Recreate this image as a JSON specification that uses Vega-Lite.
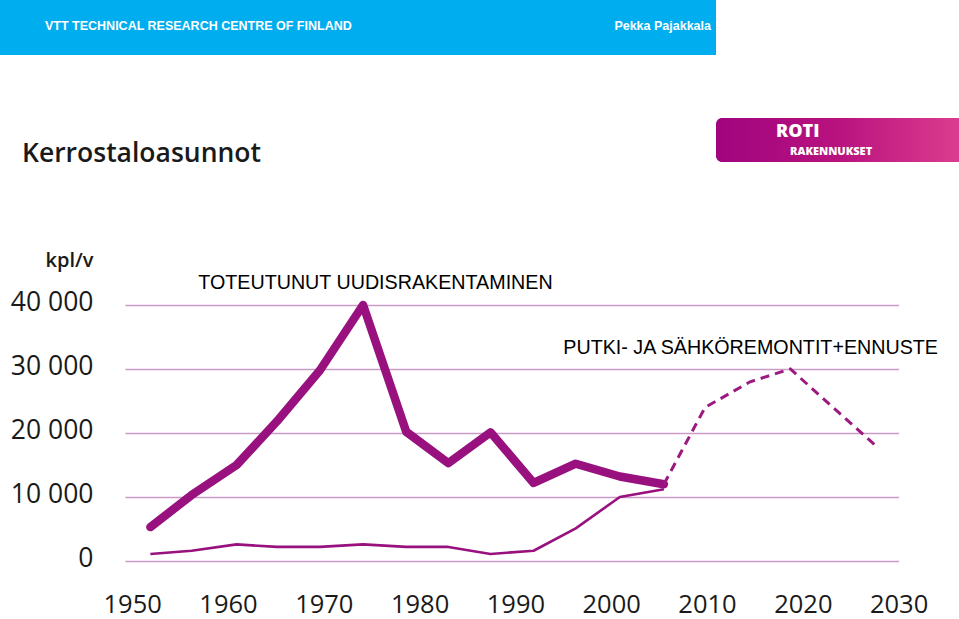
{
  "$schema": "https://vega.github.io/schema/vega-lite/v6.json",
  "width": 959,
  "height": 619,
  "padding": 0,
  "autosize": {"type": "none"},
  "background": "#FFFFFF",
  "config": {"view": {"stroke": null}},
  "datasets": {
    "housing": [
      {"series": "Toteutunut uudisrakentaminen", "year": 1951.9, "value": 5300},
      {"series": "Toteutunut uudisrakentaminen", "year": 1956.2, "value": 10300},
      {"series": "Toteutunut uudisrakentaminen", "year": 1960.9, "value": 15000},
      {"series": "Toteutunut uudisrakentaminen", "year": 1965.1, "value": 21800},
      {"series": "Toteutunut uudisrakentaminen", "year": 1969.6, "value": 29800},
      {"series": "Toteutunut uudisrakentaminen", "year": 1974.1, "value": 40000},
      {"series": "Toteutunut uudisrakentaminen", "year": 1978.6, "value": 20200},
      {"series": "Toteutunut uudisrakentaminen", "year": 1983.0, "value": 15300},
      {"series": "Toteutunut uudisrakentaminen", "year": 1987.4, "value": 20100},
      {"series": "Toteutunut uudisrakentaminen", "year": 1991.9, "value": 12200},
      {"series": "Toteutunut uudisrakentaminen", "year": 1996.3, "value": 15200},
      {"series": "Toteutunut uudisrakentaminen", "year": 2000.9, "value": 13200},
      {"series": "Toteutunut uudisrakentaminen", "year": 2005.5, "value": 12000},
      {"series": "Putki- ja sähköremontit", "year": 1951.9, "value": 1100},
      {"series": "Putki- ja sähköremontit", "year": 1956.2, "value": 1600},
      {"series": "Putki- ja sähköremontit", "year": 1960.9, "value": 2600},
      {"series": "Putki- ja sähköremontit", "year": 1965.1, "value": 2200},
      {"series": "Putki- ja sähköremontit", "year": 1969.6, "value": 2200},
      {"series": "Putki- ja sähköremontit", "year": 1974.1, "value": 2600},
      {"series": "Putki- ja sähköremontit", "year": 1978.6, "value": 2200},
      {"series": "Putki- ja sähköremontit", "year": 1983.0, "value": 2200},
      {"series": "Putki- ja sähköremontit", "year": 1987.4, "value": 1100},
      {"series": "Putki- ja sähköremontit", "year": 1991.9, "value": 1600},
      {"series": "Putki- ja sähköremontit", "year": 1996.3, "value": 5100},
      {"series": "Putki- ja sähköremontit", "year": 2000.9, "value": 10000},
      {"series": "Putki- ja sähköremontit", "year": 2005.5, "value": 11200},
      {"series": "Ennuste", "year": 2005.5, "value": 12000},
      {"series": "Ennuste", "year": 2009.8, "value": 24000},
      {"series": "Ennuste", "year": 2014.5, "value": 28000},
      {"series": "Ennuste", "year": 2018.7, "value": 30000},
      {"series": "Ennuste", "year": 2027.7, "value": 17900}
    ],
    "notes": [
      {"label": "TOTEUTUNUT UUDISRAKENTAMINEN", "year": 1956.9, "value": 43440},
      {"label": "PUTKI- JA SÄHKÖREMONTIT+ENNUSTE", "year": 1995.0, "value": 33280}
    ]
  },
  "layer": [
    {
      "data": {"values": [{"section": "header"}]},
      "mark": {"type": "rect", "fill": "#00AEEF", "stroke": null},
      "encoding": {
        "x": {"field": "section", "type": "nominal", "axis": null, "scale": {"type": "band", "range": [0, 716], "paddingInner": 0, "paddingOuter": 0}},
        "y": {"field": "section", "type": "nominal", "axis": null, "scale": {"type": "band", "range": [0, 55], "paddingInner": 0, "paddingOuter": 0}}
      }
    },
    {
      "data": {"values": [
        {"section": "header", "role": "organisation", "label": "VTT TECHNICAL RESEARCH CENTRE OF FINLAND"},
        {"section": "header", "role": "author", "label": "Pekka Pajakkala"}
      ]},
      "encoding": {
        "x": {"field": "role", "type": "nominal", "axis": null, "scale": {"type": "point", "domain": ["organisation", "author"], "range": [45, 711], "padding": 0}},
        "y": {"field": "section", "type": "nominal", "axis": null, "scale": {"type": "point", "range": [25.5, 25.5], "padding": 0}},
        "text": {"field": "label"}
      },
      "layer": [
        {
          "transform": [{"filter": "datum.role === 'organisation'"}],
          "mark": {"type": "text", "align": "left", "baseline": "middle", "color": "#FFFFFF", "font": "Liberation Sans", "fontWeight": "bold", "fontSize": 12.5}
        },
        {
          "transform": [{"filter": "datum.role === 'author'"}],
          "mark": {"type": "text", "align": "right", "baseline": "middle", "color": "#FFFFFF", "font": "Liberation Sans", "fontWeight": "bold", "fontSize": 12.5}
        }
      ]
    },
    {
      "data": {"values": [{"section": "logo"}]},
      "mark": {
        "type": "rect",
        "stroke": null,
        "cornerRadiusTopLeft": 6,
        "cornerRadiusBottomLeft": 6,
        "fill": {"gradient": "linear", "x1": 0, "x2": 1, "y1": 0, "y2": 0, "stops": [{"offset": 0, "color": "#A0047E"}, {"offset": 0.5, "color": "#B8127F"}, {"offset": 1, "color": "#DC3C8E"}]}
      },
      "encoding": {
        "x": {"field": "section", "type": "nominal", "axis": null, "scale": {"type": "band", "range": [716, 959], "paddingInner": 0, "paddingOuter": 0}},
        "y": {"field": "section", "type": "nominal", "axis": null, "scale": {"type": "band", "range": [118, 162], "paddingInner": 0, "paddingOuter": 0}}
      }
    },
    {
      "data": {"values": [
        {"role": "brand", "label": "ROTI"},
        {"role": "division", "label": "RAKENNUKSET"}
      ]},
      "encoding": {
        "x": {"field": "role", "type": "nominal", "axis": null, "scale": {"type": "point", "domain": ["brand", "division"], "range": [776, 790], "padding": 0}},
        "y": {"field": "role", "type": "nominal", "axis": null, "scale": {"type": "point", "domain": ["brand", "division"], "range": [132, 151.5], "padding": 0}},
        "text": {"field": "label"}
      },
      "layer": [
        {
          "transform": [{"filter": "datum.role === 'brand'"}],
          "mark": {"type": "text", "align": "left", "baseline": "middle", "color": "#FFFFFF", "font": "Open Sans", "fontWeight": 800, "fontSize": 18}
        },
        {
          "transform": [{"filter": "datum.role === 'division'"}],
          "mark": {"type": "text", "align": "left", "baseline": "middle", "color": "#FFFFFF", "font": "Open Sans", "fontWeight": 800, "fontSize": 11}
        }
      ]
    },
    {
      "data": {"values": [{"section": "title", "label": "Kerrostaloasunnot"}]},
      "mark": {"type": "text", "align": "left", "baseline": "alphabetic", "color": "#1A1A1A", "font": "Open Sans", "fontWeight": 600, "fontSize": 26.5},
      "encoding": {
        "x": {"field": "section", "type": "nominal", "axis": null, "scale": {"type": "point", "range": [22, 22], "padding": 0}},
        "y": {"field": "section", "type": "nominal", "axis": null, "scale": {"type": "point", "range": [162, 162], "padding": 0}},
        "text": {"field": "label"}
      }
    },
    {
      "data": {"name": "housing"},
      "encoding": {
        "x": {
          "field": "year",
          "type": "quantitative",
          "scale": {"domain": [1949.25, 2030], "range": [125, 898.6], "nice": false, "zero": false},
          "axis": {
            "orient": "bottom",
            "values": [1950, 1960, 1970, 1980, 1990, 2000, 2010, 2020, 2030],
            "format": "d",
            "offset": -27,
            "domain": false,
            "ticks": false,
            "grid": false,
            "labelPadding": 0,
            "labelFlush": false,
            "labelOverlap": false,
            "labelBaseline": "top",
            "labelFont": "Open Sans",
            "labelFontSize": 25.5,
            "labelColor": "#1A1A1A",
            "title": null
          }
        },
        "y": {
          "field": "value",
          "type": "quantitative",
          "scale": {"domain": [0, 40000], "range": [561, 305], "nice": false},
          "axis": {
            "orient": "left",
            "values": [0, 10000, 20000, 30000, 40000],
            "offset": -93,
            "domain": false,
            "ticks": false,
            "labelPadding": 0,
            "labelExpr": "replace(format(datum.value, ','), ',', ' ')",
            "labelFont": "Open Sans",
            "labelFontSize": 26.5,
            "labelColor": "#1A1A1A",
            "labelOffset": -3,
            "labelBaseline": "middle",
            "grid": true,
            "gridColor": "#C99BC6",
            "gridWidth": 1.6,
            "title": "kpl/v",
            "titleAngle": 0,
            "titleAlign": "right",
            "titleBaseline": "middle",
            "titleX": 0,
            "titleY": 260,
            "titleFont": "Open Sans",
            "titleFontWeight": 600,
            "titleFontSize": 20,
            "titleColor": "#1A1A1A"
          }
        }
      },
      "layer": [
        {
          "transform": [{"filter": "datum.series === 'Putki- ja sähköremontit'"}],
          "mark": {"type": "line", "color": "#98117F", "strokeWidth": 2.6, "strokeJoin": "round"}
        },
        {
          "transform": [{"filter": "datum.series === 'Toteutunut uudisrakentaminen'"}],
          "mark": {"type": "line", "color": "#98117F", "strokeWidth": 8.5, "strokeCap": "round", "strokeJoin": "round"}
        },
        {
          "transform": [{"filter": "datum.series === 'Ennuste'"}],
          "mark": {"type": "line", "color": "#9C1A80", "strokeWidth": 3, "strokeDash": [9, 6]}
        },
        {
          "data": {"name": "notes"},
          "mark": {"type": "text", "align": "left", "baseline": "middle", "color": "#000000", "font": "Liberation Sans", "fontSize": 19.7},
          "encoding": {"text": {"field": "label"}}
        }
      ]
    }
  ],
  "resolve": {"scale": {"x": "independent", "y": "independent"}}
}
